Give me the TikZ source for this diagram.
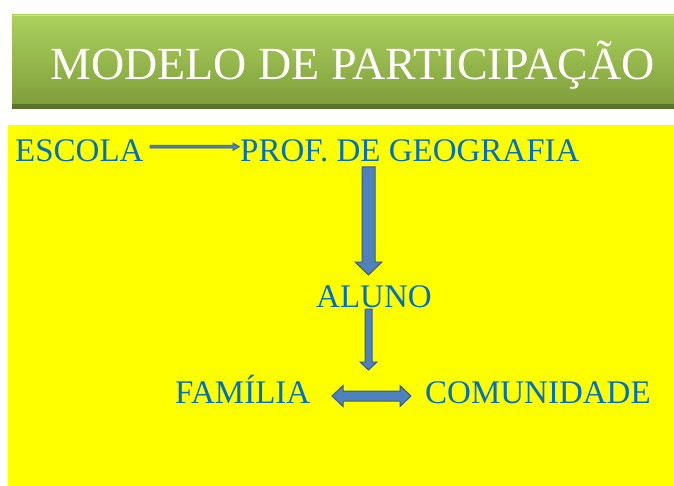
\documentclass[tikz,border=0pt]{standalone}
\usepackage{fontspec}
\setmainfont{Liberation Serif}
\definecolor{txtblue}{HTML}{0070C0}
\definecolor{arrfill}{HTML}{4F81BD}
\definecolor{arrline}{HTML}{385D8A}
\definecolor{gtop}{HTML}{ABD15C}
\definecolor{gbot}{HTML}{819F3C}
\definecolor{gedge}{HTML}{5B722B}
\definecolor{bgyellow}{HTML}{FFFF00}
\begin{document}
\begin{tikzpicture}[x=1pt,y=-1pt,
  lbl/.style={anchor=base west,inner sep=0pt,text=txtblue,font=\fontsize{33}{36}\selectfont},
  blockarrow/.style={fill=arrfill,draw=arrline,line width=1pt,line join=miter}]
\useasboundingbox (0,0) rectangle (674,486);
\fill[white] (0,0) rectangle (674,486);
% title bar
\fill[gedge] (12,15) rectangle (676,109);
\shade[top color=gtop,bottom color=gbot] (12,15) rectangle (676,104);
\draw[white,opacity=0.35,line width=1pt] (12.5,15.5) -- (676,15.5);
\node[anchor=base west,inner sep=0pt,text=white,font=\fontsize{46}{50}\selectfont] (title) at (50,80) {MODELO DE PARTICIPAÇÃO};
% yellow area
\fill[bgyellow] (8,125) rectangle (674,486);
% labels
\node[lbl] (escola) at (15,162) {ESCOLA};
\node[lbl] (prof) at (240,162) {PROF. DE GEOGRAFIA};
\node[lbl] (aluno) at (316,307) {ALUNO};
\node[lbl] (familia) at (175,403) {FAMÍLIA};
\node[lbl] (comunidade) at (425,403) {COMUNIDADE};
% thin arrow ESCOLA -> PROF
\draw[blockarrow,line width=0.7pt] (150,145.3) -- (233,145.3) -- (233,143) -- (239.5,146.7) -- (233,150.4) -- (233,148.1) -- (150,148.1) -- cycle;
% big down arrow PROF -> ALUNO
\draw[blockarrow] (362,167) -- (375,167) -- (375,262) -- (382,262) -- (368.5,275) -- (355,262) -- (362,262) -- cycle;
% small down arrow ALUNO -> FAMILIA/COMUNIDADE
\draw[blockarrow] (365,309) -- (372,309) -- (372,362) -- (377,362) -- (368.5,370) -- (360,362) -- (365,362) -- cycle;
% double arrow FAMILIA <-> COMUNIDADE
\draw[blockarrow] (332,396) -- (343,385.5) -- (343,391) -- (400,391) -- (400,385.5) -- (411,396) -- (400,406.5) -- (400,401) -- (343,401) -- (343,406.5) -- cycle;
\end{tikzpicture}
\end{document}
